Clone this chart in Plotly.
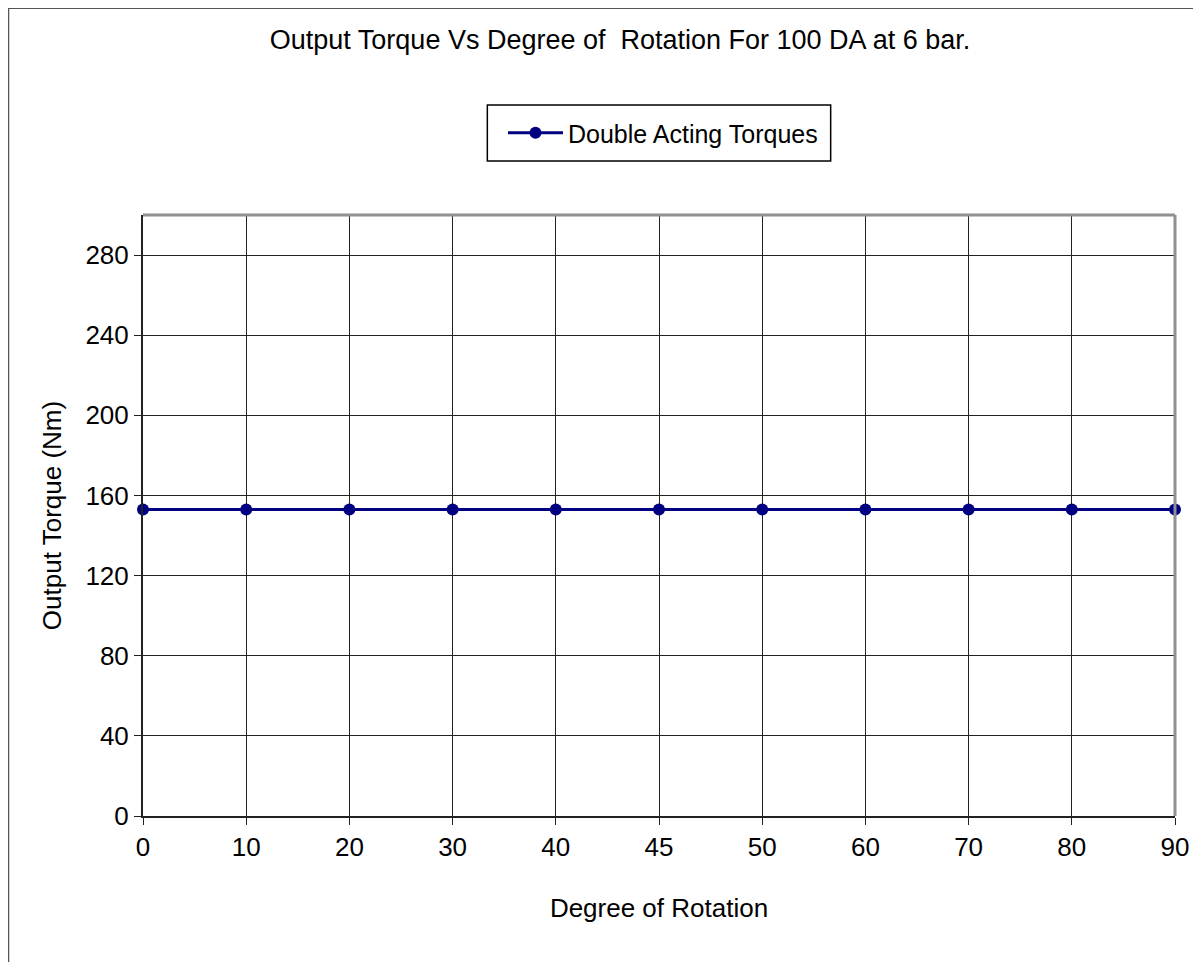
import plotly.graph_objects as go

# data
degrees = ["0", "10", "20", "30", "40", "45", "50", "60", "70", "80", "90"]
torque_da = [153, 153, 153, 153, 153, 153, 153, 153, 153, 153, 153]

FONT = "Liberation Sans, Arial, sans-serif"
NAVY = "#000080"

# the page body adds an 8px offset, so work in reference pixels minus 8
OFF = 8
W, H = 1201 - OFF, 962 - OFF
L, R, T, B = 143 - OFF, 1177 - OFF, 215 - OFF, 816 - OFF
pw, ph = R - L, B - T


def px_x(p):
    return (p - OFF - L) / pw


def px_y(p):
    return (B - (p - OFF)) / ph


fig = go.Figure(go.Scatter(
    x=degrees,
    y=torque_da,
    mode="lines+markers",
    name="Double Acting Torques",
    line=dict(color=NAVY, width=3),
    marker=dict(color=NAVY, size=12, symbol="circle"),
    cliponaxis=False,
))

fig.update_layout(
    width=W,
    height=H,
    margin=dict(l=L, r=W - R, t=T, b=H - B, pad=0),
    paper_bgcolor="white",
    plot_bgcolor="white",
    font=dict(family=FONT, size=26, color="black"),
    title=dict(
        text="Output Torque Vs Degree of  Rotation For 100 DA at 6 bar.",
        x=(620 - OFF) / W, xanchor="center",
        y=1 - (40 - OFF) / H, yanchor="middle",
        font=dict(size=27),
    ),
    showlegend=True,
    legend=dict(
        x=px_x(664), xanchor="center",
        y=px_y(133), yanchor="middle",
        borderwidth=0,
        bgcolor="rgba(0,0,0,0)",
        font=dict(size=25),
        itemwidth=55,
    ),
    xaxis=dict(
        type="category",
        range=[0, len(degrees) - 1],
        showgrid=True, gridcolor="#222222", gridwidth=1,
        showline=True, linecolor="#222222", linewidth=2,
        ticks="outside", ticklen=7, tickcolor="#222222",
        tickfont=dict(size=26),
        title=dict(text="Degree of Rotation", standoff=38, font=dict(size=26)),
        zeroline=False,
    ),
    yaxis=dict(
        range=[0, 300],
        dtick=40, tick0=0,
        showgrid=True, gridcolor="#222222", gridwidth=1,
        showline=True, linecolor="#222222", linewidth=2,
        ticks="outside", ticklen=7, tickcolor="#222222",
        tickfont=dict(size=26),
        title=dict(text="Output Torque (Nm)", standoff=16, font=dict(size=26)),
        zeroline=False,
    ),
    shapes=[
        # gray top and right edges of the plot area
        dict(type="line", xref="paper", yref="paper", x0=0, x1=1, y0=1, y1=1,
             line=dict(color="#909090", width=3)),
        dict(type="line", xref="paper", yref="paper", x0=1, x1=1, y0=0, y1=1,
             line=dict(color="#909090", width=3)),
        # legend frame
        dict(type="rect", xref="paper", yref="paper",
             x0=px_x(488), x1=px_x(832), y0=px_y(161), y1=px_y(105),
             line=dict(color="black", width=1.5)),
        # outer chart frame (left and top edges only visible)
        dict(type="line", xref="paper", yref="paper",
             x0=px_x(8), x1=px_x(1220), y0=px_y(8), y1=px_y(8),
             line=dict(color="#555555", width=2)),
        dict(type="line", xref="paper", yref="paper",
             x0=px_x(8), x1=px_x(8), y0=px_y(8), y1=px_y(980),
             line=dict(color="#555555", width=2)),
    ],
)

fig.write_html("out.html")
